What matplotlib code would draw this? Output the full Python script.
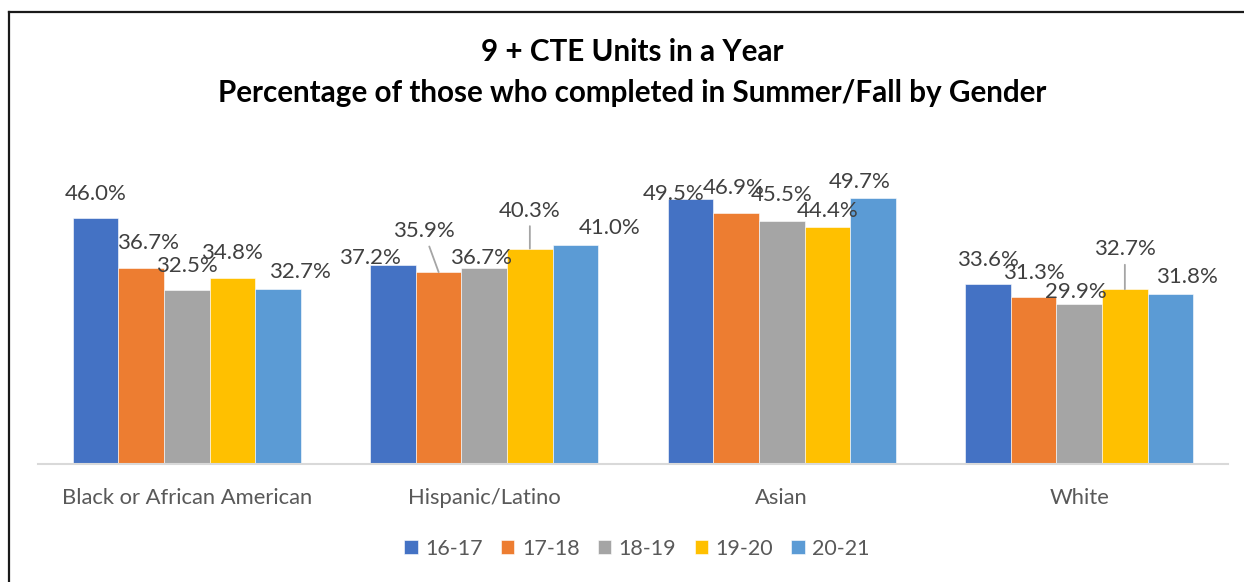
# 9+ CTE units chart - grouped bars by ethnicity and year

import numpy as np
import matplotlib.pyplot as plt
from matplotlib.lines import Line2D

plt.rcParams['font.family'] = ['Lato', 'DejaVu Sans']

# Data
groups = ['Black or African American', 'Hispanic/Latino', 'Asian', 'White']
years = ['16-17', '17-18', '18-19', '19-20', '20-21']
v_1617 = [46.0, 37.2, 49.5, 33.6]
v_1718 = [36.7, 35.9, 46.9, 31.3]
v_1819 = [32.5, 36.7, 45.5, 29.9]
v_1920 = [34.8, 40.3, 44.4, 32.7]
v_2021 = [32.7, 41.0, 49.7, 31.8]
series = [v_1617, v_1718, v_1819, v_1920, v_2021]

colors = ['#4472C4', '#ED7D31', '#A5A5A5', '#FFC000', '#5B9BD5']

# label offsets (pixels) from bar top, per series per group, mimicking Excel placement
label_dx = [[0, -23, -17, 0],
            [7, -15, -2, 0],
            [0, -3, 0, -3],
            [0, 0, 0, 0],
            [22, 34, -13, 16]]
label_dy = [[24, 7, 5, 24],
            [25, 41, 25, 24],
            [24, 10, 26, 12],
            [25, 38, 16, 40],
            [17, 17, 16, 17]]
leaders = {(1, 1), (3, 1), (3, 3)}

fig = plt.figure(figsize=(12.44, 5.82), dpi=100)
ax = fig.add_axes([38 / 1244, 118 / 582, 1190 / 1244, 294 / 582])

x = np.arange(len(groups))
w = 0.1533
for i, vals in enumerate(series):
    pos = x + (i - 2) * w
    ax.bar(pos, vals, width=w, color=colors[i], label=years[i],
           edgecolor='white', linewidth=0.4)
    for j, v in enumerate(vals):
        arrow = None
        if (i, j) in leaders:
            arrow = dict(arrowstyle='-', color='#A5A5A5', lw=1.3, shrinkA=2, shrinkB=0)
        ax.annotate(f'{v:.1f}%', xy=(pos[j], v),
                    xytext=(label_dx[i][j], label_dy[i][j]), textcoords='offset pixels',
                    ha='center', va='center', fontsize=16, color='#404040',
                    arrowprops=arrow)

ax.set_xlim(-0.5, 3.5)
ax.set_ylim(0, 55)
ax.set_yticks([])
ax.set_xticks(x)
ax.set_xticklabels(groups, fontsize=15.8, color='#595959')
ax.tick_params(axis='x', length=0, pad=17)
for s in ['top', 'right', 'left']:
    ax.spines[s].set_visible(False)
ax.spines['bottom'].set_color('#D9D9D9')
ax.spines['bottom'].set_linewidth(1.5)

# Title
fig.text(632 / 1244, 1 - 52 / 582, '9 + CTE Units in a Year', ha='center', va='center',
         fontsize=21.3, fontweight='bold', color='black')
fig.text(632 / 1244, 1 - 93 / 582, 'Percentage of those who completed in Summer/Fall by Gender',
         ha='center', va='center', fontsize=21.3, fontweight='bold', color='black')

# Legend
leg = fig.legend(loc='center', bbox_to_anchor=(637 / 1244, 1 - 549 / 582), ncol=5,
                 frameon=False, fontsize=15.5, handlelength=0.62, handleheight=0.62,
                 handletextpad=0.35, columnspacing=0.85, labelcolor='#595959')

# Border lines (top and left)
fig.add_artist(Line2D([9 / 1244, 1], [1 - 12 / 582, 1 - 12 / 582], transform=fig.transFigure,
                      color='#1a1a1a', lw=1.6))
fig.add_artist(Line2D([9 / 1244, 9 / 1244], [0, 1 - 12 / 582], transform=fig.transFigure,
                      color='#1a1a1a', lw=1.6))

plt.savefig('out.png', dpi=100)
